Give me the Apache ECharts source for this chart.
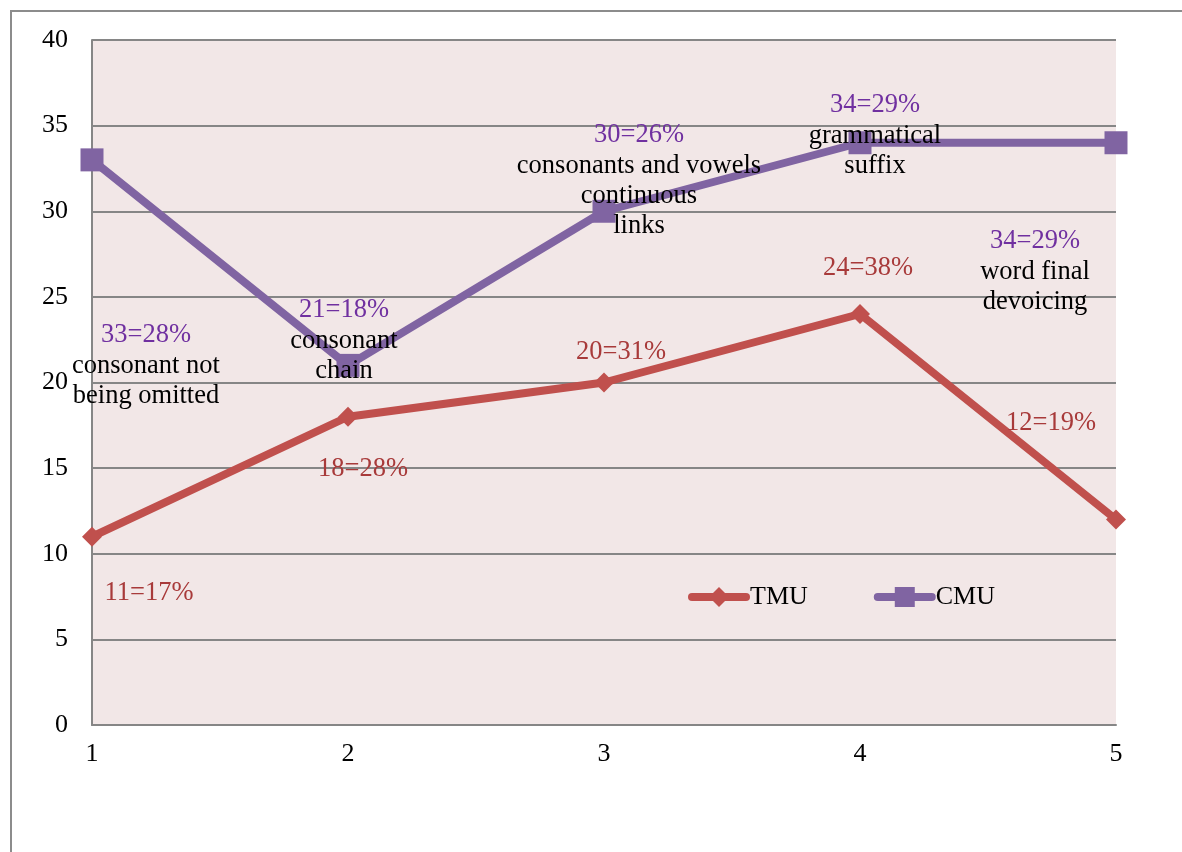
<!DOCTYPE html>
<html>
<head>
<meta charset="utf-8">
<script src="https://cdn.jsdelivr.net/npm/echarts@6/dist/echarts.min.js"></script>
<style>
    html, body { margin: 0; padding: 0; background: #fff; }
    #chart { width: 1182px; height: 852px; }
</style>
</head>
<body>
<div id="chart"></div>
<script>
const categories = ['1', '2', '3', '4', '5'];
const tmuValues = [11, 18, 20, 24, 12];
const cmuValues = [33, 21, 30, 34, 34];
const tmuLabels = ['11=17%', '18=28%', '20=31%', '24=38%', '12=19%'];
const cmuLabels = ['33=28%', '21=18%', '30=26%', '34=29%', '34=29%'];
const cmuNotes = [
    ['consonant not', 'being omitted'],
    ['consonant', 'chain'],
    ['consonants and vowels', 'continuous', 'links'],
    ['grammatical', 'suffix'],
    ['word final', 'devoicing']
];

// label offsets from each point (layout only)
const tmuOffsets = [[57, 56], [15, 52], [17, -30], [8, -46], [-65, -96]];
const cmuOffsets = [[54, 205], [-4, -25], [35, -31], [15, -8], [-81, 128]];

const tmuColor = '#C0504D';
const cmuColor = '#8064A2';
const fontFamily = '"Liberation Serif", "Times New Roman", serif';
const labelSize = 26.5;

const chart = echarts.init(document.getElementById('chart'));

function buildData(values, offsets, formatter, rich) {
    return values.map(function (v, i) {
        return {
            value: v,
            label: {
                show: true,
                position: 'inside',
                offset: offsets[i],
                align: 'center',
                verticalAlign: 'middle',
                formatter: formatter(i),
                rich: rich
            }
        };
    });
}

const option = {
    backgroundColor: '#fff',
    textStyle: { fontFamily: fontFamily },
    graphic: [{
        type: 'rect',
        shape: { x: 11, y: 11, width: 1300, height: 1000 },
        style: { fill: 'none', stroke: '#8c8c8c', lineWidth: 2 },
        silent: true,
        z: -10
    }],
    grid: {
        left: 92,
        top: 40,
        right: 66,
        bottom: 127,
        show: true,
        backgroundColor: '#F2E7E7',
        borderWidth: 0
    },
    legend: {
        data: ['TMU', 'CMU'],
        left: 688,
        top: 584,
        padding: 0,
        itemWidth: 54,
        itemHeight: 25,
        itemGap: 66,
        lineStyle: { width: 8, cap: 'round' },
        textStyle: {
            fontFamily: fontFamily,
            fontSize: 26,
            color: '#000',
            padding: [0, 0, 0, -1]
        }
    },
    xAxis: {
        type: 'category',
        data: categories,
        boundaryGap: false,
        axisLine: { lineStyle: { color: '#868686', width: 2 } },
        axisTick: { show: false },
        axisLabel: { color: '#000', fontSize: 26, fontFamily: fontFamily, margin: 16 }
    },
    yAxis: {
        type: 'value',
        min: 0,
        max: 40,
        interval: 5,
        axisLine: { show: true, lineStyle: { color: '#868686', width: 2 } },
        axisTick: { show: false },
        axisLabel: { color: '#000', fontSize: 26, fontFamily: fontFamily, margin: 24 },
        splitLine: { lineStyle: { color: '#868686', width: 2 } }
    },
    series: [
        {
            name: 'TMU',
            type: 'line',
            symbol: 'diamond',
            symbolSize: 20,
            itemStyle: { color: tmuColor },
            lineStyle: { color: tmuColor, width: 8 },
            z: 3,
            data: buildData(tmuValues, tmuOffsets, function (i) {
                return '{p|' + tmuLabels[i] + '}';
            }, {
                p: { color: '#A83A3A', fontSize: labelSize, fontFamily: fontFamily }
            })
        },
        {
            name: 'CMU',
            type: 'line',
            symbol: 'rect',
            symbolSize: 23,
            itemStyle: { color: cmuColor },
            lineStyle: { color: cmuColor, width: 8 },
            z: 2,
            data: buildData(cmuValues, cmuOffsets, function (i) {
                return ['{p|' + cmuLabels[i] + '}'].concat(cmuNotes[i].map(function (s) {
                    return '{n|' + s + '}';
                })).join('\n');
            }, {
                p: { color: '#7030A0', fontSize: labelSize, fontFamily: fontFamily, lineHeight: 32 },
                n: { color: '#000', fontSize: labelSize, fontFamily: fontFamily, lineHeight: 30 }
            })
        }
    ]
};

chart.setOption(option);
window.addEventListener('resize', function () {
    chart.resize();
});
</script>
</body>
</html>
